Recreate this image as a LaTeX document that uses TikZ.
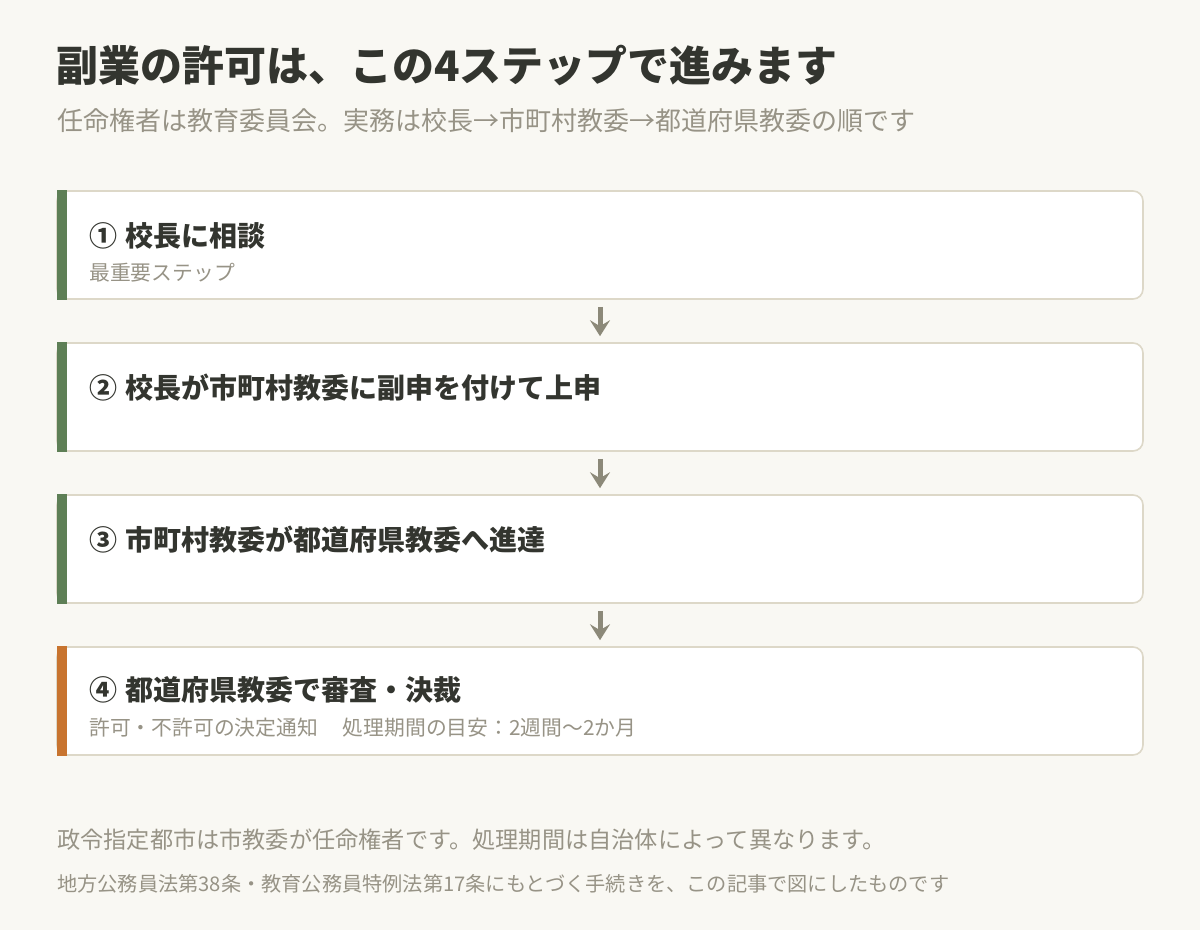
\documentclass[tikz,border=0pt]{standalone}
\usepackage{fontspec}
\setmainfont{Noto Sans CJK JP}
\usepackage{xcolor}
\usetikzlibrary{arrows.meta,positioning}
\definecolor{paper}{HTML}{F9F8F3}
\definecolor{ink}{HTML}{33352F}
\definecolor{mute}{HTML}{979386}
\definecolor{rim}{HTML}{DDD8C8}
\definecolor{moss}{HTML}{5E7F56}
\definecolor{rust}{HTML}{C8742F}
\definecolor{pointer}{HTML}{8C8979}

\begin{document}
\begin{tikzpicture}[x=1pt,y=-1pt]
  \tikzstyle{stepbox}=[draw=rim,line width=1.6pt,fill=white,rounded corners=10pt,
    minimum width=1086pt,minimum height=108pt,inner sep=0pt]
  \tikzstyle{bar}=[fill=moss,draw=none,minimum width=10pt,minimum height=109.6pt,inner sep=0pt]
  \tikzstyle{steptitle}=[anchor=west,inner sep=0pt,text=ink,font=\fontsize{28}{32}\selectfont\bfseries]
  \tikzstyle{stepnote}=[anchor=west,inner sep=0pt,text=mute,font=\fontsize{20.8}{24}\selectfont]
  \tikzstyle{footnote}=[anchor=west,inner sep=0pt,text=mute]
  \tikzstyle{flow}=[draw=pointer,line width=5pt,
    -{Stealth[length=16pt,width=20pt,inset=6pt]},shorten >=6pt,shorten <=7pt]

  \fill[paper] (0,0) rectangle (1200,930);
  \useasboundingbox (0,0) rectangle (1200,930);

  \node[anchor=west,inner sep=0pt,text=ink,font=\fontsize{42}{48}\selectfont\bfseries]
    (title) at (56,65) {副業の許可は、この4ステップで進みます};
  \node[anchor=west,inner sep=0pt,text=mute,font=\fontsize{26}{30}\selectfont]
    (subtitle) at (57,121) {任命権者は教育委員会。実務は校長→市町村教委→都道府県教委の順です};

  \node[stepbox] (s1) at (600,245) {};
  \node[stepbox] (s2) at (600,397) {};
  \node[stepbox] (s3) at (600,549) {};
  \node[stepbox] (s4) at (600,701) {};

  \node[bar] (b1) at (61.5,245) {};
  \node[bar] (b2) at (61.5,397) {};
  \node[bar] (b3) at (61.5,549) {};
  \node[bar,fill=rust] (b4) at (61.5,701) {};

  \node[steptitle] (t1) at (89,236) {①\hspace{0.3em}校長に相談};
  \node[stepnote]  (n1) at (89,273) {最重要ステップ};
  \node[steptitle] (t2) at (89,388) {②\hspace{0.3em}校長が市町村教委に副申を付けて上申};
  \node[steptitle] (t3) at (89,540) {③\hspace{0.3em}市町村教委が都道府県教委へ進達};
  \node[steptitle] (t4) at (89,690) {④\hspace{0.3em}都道府県教委で審査・決裁};
  \node[stepnote]  (n4) at (89,728) {許可・不許可の決定通知\hspace{1.2em}処理期間の目安：2週間～2か月};

  \draw[flow] (s1.south) -- (s2.north);
  \draw[flow] (s2.south) -- (s3.north);
  \draw[flow] (s3.south) -- (s4.north);

  \node[footnote,font=\fontsize{23.2}{27}\selectfont] (f1) at (57,840)
    {政令指定都市は市教委が任命権者です。処理期間は自治体によって異なります。};
  \node[footnote,font=\fontsize{20.2}{24}\selectfont] (f2) at (57,884)
    {地方公務員法第38条・教育公務員特例法第17条にもとづく手続きを、この記事で図にしたものです};
\end{tikzpicture}
\end{document}
